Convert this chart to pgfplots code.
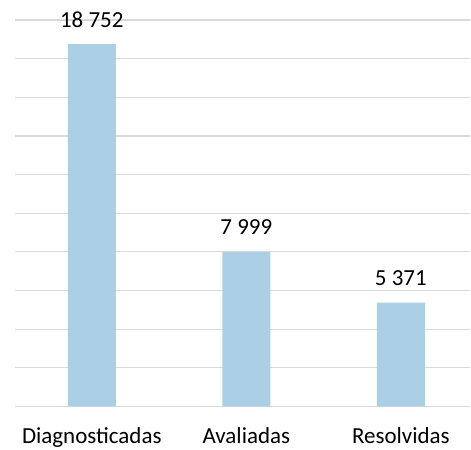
\documentclass[border=0pt]{standalone}
\usepackage{fontspec}
\setmainfont{Carlito}
\usepackage{pgfplots}
\pgfplotsset{compat=1.18}
\definecolor{barblue}{RGB}{171,208,230}
\definecolor{gridgray}{RGB}{217,217,217}
\begin{document}
\begin{tikzpicture}
\begin{axis}[
  scale only axis,
  width=456bp, height=387bp,
  ybar, bar width=48bp,
  xmin=-0.497, xmax=2.45,
  ymin=0, ymax=20000,
  ytick={0,2000,...,20000},
  yticklabels={},
  scaled y ticks=false,
  ymajorgrids,
  grid style={gridgray, line width=1.2bp},
  major tick length=0pt,
  axis line style={draw=none},
  xtick=data,
  xticklabels={Diagnosticadas, Avaliadas, Resolvidas},
  xticklabel style={font=\fontsize{23bp}{27bp}\selectfont, anchor=base, inner sep=0pt, yshift=-37bp},
  /pgf/number format/assume math mode=true,
  nodes near coords={\pgfmathprintnumber[fixed, 1000 sep={\ }, precision=0, assume math mode=true]{\pgfplotspointmeta}},
  nodes near coords style={font=\fontsize{23bp}{27bp}\selectfont, anchor=base, inner sep=0pt, yshift=17bp},
  point meta=y,
  clip=false,
]
\addplot[fill=barblue, draw=none] coordinates {(0,18752) (1,7999) (2,5371)};
\end{axis}
\useasboundingbox (-15bp,-43bp) rectangle (456bp,407bp);
\end{tikzpicture}
\end{document}
